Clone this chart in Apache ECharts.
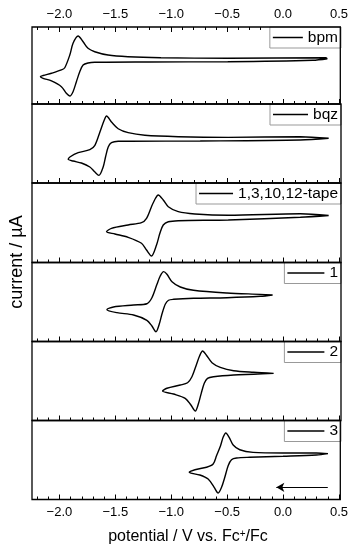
<!DOCTYPE html>
<html>
<head>
<meta charset="utf-8">
<script src="https://cdn.jsdelivr.net/npm/echarts@6/dist/echarts.min.js"></script>
<style>html,body{margin:0;padding:0;background:#fff}#c{width:351px;height:550px}</style>
</head>
<body>
<div id="c"></div>
<script>
// ---- data (potential in V vs Fc+/Fc, current in arbitrary units per panel) ----
const names = ['bpm', 'bqz', '1,3,10,12-tape', '1', '2', '3'];

const bpmV = [0.396, 0.265, -0.494, -1.2, -1.684, -1.744, -1.788, -1.818, -1.848, -1.878, -1.907, -1.938, -1.982, -2.071, -2.146, -2.170, -2.146, -2.071, -1.982, -1.952, -1.907, -1.878, -1.833, -1.788, -1.744, -1.684, -1.565, -1.387, -1.092, -0.494, 0.381, 0.396];
const bpmI = [58.8, 56.8, 54.9, 54.6, 54.2, 53.2, 50.6, 41.9, 29.0, 16.0, 10.4, 13.9, 22.5, 29.9, 33.4, 35.5, 37.0, 39.9, 44.2, 47.1, 63.6, 78.8, 88.3, 80.9, 72.3, 67.9, 63.6, 61.4, 60.1, 59.4, 60.0, 58.8];

const bqzV = [0.402, 0.149, -0.744, -1.368, -1.476, -1.536, -1.565, -1.589, -1.610, -1.648, -1.684, -1.729, -1.804, -1.878, -1.922, -1.907, -1.833, -1.729, -1.684, -1.639, -1.601, -1.580, -1.536, -1.476, -1.387, -1.238, -0.940, -0.494, 0.149, 0.402];
const bqzI = [56.6, 54.4, 53.2, 52.9, 52.8, 51.0, 45.6, 32.9, 20.3, 9.7, 13.9, 20.3, 25.3, 27.8, 30.0, 32.9, 38.4, 42.2, 47.7, 64.6, 79.4, 84.8, 77.2, 68.7, 63.7, 60.4, 58.6, 57.8, 58.6, 56.6];

const tapeV = [0.402, 0.149, -0.494, -0.940, -1.029, -1.074, -1.104, -1.134, -1.179, -1.223, -1.268, -1.387, -1.505, -1.580, -1.536, -1.387, -1.268, -1.223, -1.179, -1.143, -1.119, -1.074, -1.029, -0.940, -0.791, -0.494, 0.149, 0.402];
const tapeI = [59.1, 56.9, 53.5, 52.6, 51.3, 47.2, 36.7, 22.0, 8.2, 15.7, 24.2, 31.7, 35.9, 38.7, 43.0, 47.2, 50.1, 55.6, 70.2, 80.8, 84.9, 78.6, 70.2, 63.9, 61.0, 59.4, 61.3, 59.1];

const c1V = [-0.098, -0.208, -0.505, -0.804, -0.982, -1.027, -1.056, -1.086, -1.110, -1.139, -1.175, -1.220, -1.339, -1.487, -1.577, -1.518, -1.339, -1.220, -1.175, -1.130, -1.101, -1.071, -1.041, -0.996, -0.922, -0.804, -0.505, -0.208, -0.098];
const c1I = [58.9, 57.2, 55.4, 54.7, 53.4, 52.2, 47.1, 34.4, 21.8, 12.4, 19.6, 26.8, 33.5, 36.5, 40.3, 43.7, 46.2, 47.8, 55.4, 72.4, 82.9, 88.4, 85.1, 75.7, 69.0, 64.8, 61.4, 59.7, 58.9];

const c2V = [-0.089, -0.268, -0.446, -0.625, -0.679, -0.708, -0.735, -0.759, -0.788, -0.827, -0.878, -0.982, -1.080, -1.041, -0.922, -0.857, -0.818, -0.779, -0.750, -0.723, -0.690, -0.639, -0.565, -0.446, -0.268, -0.089];
const c2I = [59.7, 58.5, 57.6, 55.4, 53.4, 47.1, 34.4, 21.8, 12.0, 19.6, 28.1, 33.5, 37.3, 40.8, 44.9, 47.8, 55.4, 70.3, 81.6, 88.0, 82.9, 73.2, 67.3, 63.0, 61.0, 59.7];

const c3V = [0.402, 0.298, 0.0, -0.297, -0.416, -0.461, -0.491, -0.521, -0.550, -0.580, -0.616, -0.670, -0.744, -0.839, -0.788, -0.684, -0.625, -0.595, -0.559, -0.536, -0.512, -0.482, -0.446, -0.387, -0.268, 0.0, 0.298, 0.402];
const c3I = [58.0, 56.3, 54.7, 53.4, 52.5, 50.4, 42.8, 28.1, 15.4, 8.2, 15.4, 25.9, 31.0, 34.4, 37.7, 40.8, 44.9, 55.4, 68.1, 78.7, 84.2, 78.7, 69.0, 63.0, 59.7, 58.9, 58.9, 58.0];

// scan direction arrow (panel 3)
const arrowV = [0.40, -0.06];
const arrowI = 15.4;

const majorTicks = [-2.0, -1.5, -1.0, -0.5, 0.0, 0.5];
const minorTicks = [-2.2, -2.1, -2.0, -1.9, -1.8, -1.7, -1.6, -1.5, -1.4, -1.3, -1.2, -1.1, -1.0, -0.9, -0.8, -0.7, -0.6, -0.5, -0.4, -0.3, -0.2, -0.1, 0.0, 0.1, 0.2, 0.3, 0.4, 0.5];
const xMin = -2.245, xMax = 0.512;

// ---- layout ----
const panelTops = [27, 104, 183, 262.5, 341.5, 420.5];
const panelHeights = [77, 79, 79.5, 79, 79, 79];
const legendIconW = [30, 35, 34, 37, 37, 37];
const FONT = 'Liberation Sans';

const curves = [[bpmV, bpmI], [bqzV, bqzI], [tapeV, tapeI], [c1V, c1I], [c2V, c2I], [c3V, c3I]];

const fmt = v => (v < 0 ? '\u2212' : '') + Math.abs(v).toFixed(1);

const grids = [], xAxes = [], yAxes = [], series = [], legends = [];

function tickAxis(gi, position, ticks, len, showLabel) {
  return {
    type: 'value', gridIndex: gi, position: position, min: xMin, max: xMax,
    axisLine: { show: false }, splitLine: { show: false },
    axisTick: { show: true, inside: true, length: len, customValues: ticks, lineStyle: { color: '#000', width: 1 } },
    axisLabel: { show: showLabel, customValues: ticks, formatter: fmt, margin: 6, color: '#000', fontSize: 13, fontFamily: FONT }
  };
}

for (let i = 0; i < 6; i++) {
  grids.push({ left: 32, right: 10, top: panelTops[i], height: panelHeights[i], show: true, borderColor: '#000', borderWidth: 1.3, backgroundColor: 'transparent', z: 3 });
  const mainIdx = xAxes.length;
  xAxes.push(tickAxis(i, 'bottom', majorTicks, 5, i === 5));
  xAxes.push(tickAxis(i, 'bottom', minorTicks, 3, false));
  if (i === 0) {
    xAxes.push(tickAxis(i, 'top', majorTicks, 5, true));
    xAxes.push(tickAxis(i, 'top', minorTicks, 3, false));
  }
  yAxes.push({ type: 'value', gridIndex: i, min: 0, max: 100, show: false });
  const [V, I] = curves[i];
  const s = {
    type: 'line', name: names[i], xAxisIndex: mainIdx, yAxisIndex: i,
    data: V.map((v, k) => [v, I[k]]),
    showSymbol: false, smooth: 0.3, color: '#000',
    lineStyle: { color: '#000', width: 1.4 }, z: 4
  };
  if (i === 5) {
    s.markLine = {
      silent: true, symbol: ['none', 'arrow'], symbolSize: [7, 8],
      lineStyle: { color: '#000', width: 1.2, type: 'solid' },
      label: { show: false },
      data: [[{ coord: [arrowV[0], arrowI] }, { coord: [arrowV[1], arrowI] }]]
    };
  }
  series.push(s);
  legends.push({
    data: [names[i]], right: 10, top: panelTops[i], orient: 'horizontal',
    padding: [2.5, 3, 2.5, 3], itemWidth: legendIconW[i], itemHeight: 1.5, icon: 'rect',
    borderColor: '#999', borderWidth: 1, backgroundColor: '#fff', selectedMode: false, z: 1,
    textStyle: { fontSize: 15.5, fontFamily: FONT, color: '#000' }
  });
}

// titles grid
grids.push({ left: 32, right: 10, top: 27, bottom: 50.5, show: false });
xAxes.push({
  type: 'value', gridIndex: 6, min: 0, max: 1,
  axisLine: { show: false }, axisTick: { show: false }, axisLabel: { show: false }, splitLine: { show: false },
  name: 'potential / V vs. Fc{sup|+}/Fc', nameLocation: 'middle', nameGap: 32,
  nameTextStyle: { fontSize: 16, fontFamily: FONT, color: '#000', rich: { sup: { fontSize: 10, verticalAlign: 'top', fontFamily: FONT, color: '#000' } } }
});
yAxes.push({
  type: 'value', gridIndex: 6, min: 0, max: 1,
  axisLine: { show: false }, axisTick: { show: false }, axisLabel: { show: false }, splitLine: { show: false },
  name: 'current / µA', nameLocation: 'middle', nameGap: 9,
  nameTextStyle: { fontSize: 18, fontFamily: FONT, color: '#000' }
});

const chart = echarts.init(document.getElementById('c'), null, { renderer: 'canvas' });
chart.setOption({
  animation: false,
  backgroundColor: '#fff',
  grid: grids, xAxis: xAxes, yAxis: yAxes, series: series, legend: legends
});
</script>
</body>
</html>
